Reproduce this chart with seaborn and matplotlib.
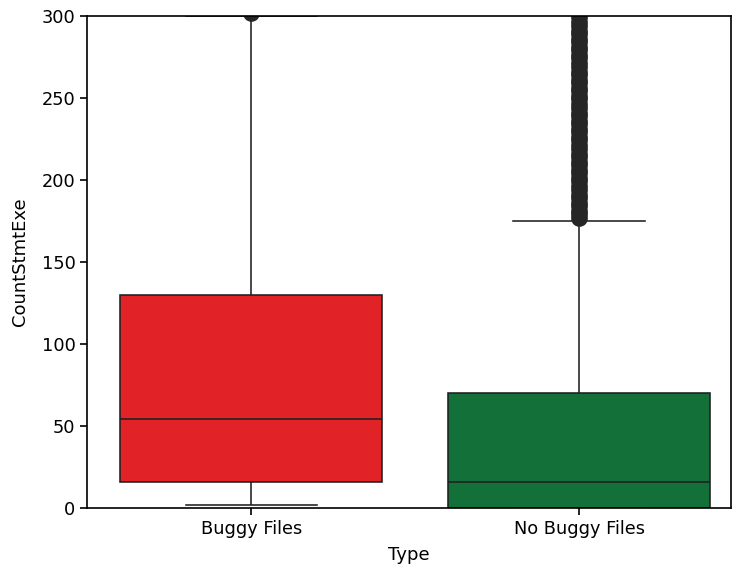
import matplotlib
matplotlib.use("Agg")
import matplotlib.pyplot as plt
import pandas as pd
import seaborn as sns

# Categories and colours
categories = ["Buggy Files", "No Buggy Files"]
box_colors = ["#e12328", "#147039"]

# Five-number summaries (whisker low, Q1, median, Q3, whisker high)
buggy_summary = [1.5, 16, 54, 130, 300]
no_buggy_summary = [0, 0, 16, 70, 175]

# Outlying values beyond the upper whisker
buggy_outliers = [302, 340, 410]
no_buggy_outliers = [177, 179, 181, 184, 186, 189, 191, 194, 196, 199,
                     201, 204, 206, 209, 211, 214, 216, 219, 221, 224,
                     226, 229, 231, 234, 236, 239, 241, 244, 246, 249,
                     251, 254, 256, 259, 261, 264, 266, 269, 271, 274,
                     276, 279, 281, 284, 286, 289, 291, 294, 296, 299,
                     302, 308, 320, 350]


def sample_from_summary(summary, outliers):
    """Build an observation list whose quartiles and whiskers equal the summary."""
    lo, q1, med, q3, hi = summary
    k = len(outliers) + 1
    return [lo] + [q1] * k + [med] * k + [q3] * k + [hi] + list(outliers)


rows = []
for name, summ, outl in [(categories[0], buggy_summary, buggy_outliers),
                         (categories[1], no_buggy_summary, no_buggy_outliers)]:
    for v in sample_from_summary(summ, outl):
        rows.append({"Type": name, "CountStmtExe": v})
df = pd.DataFrame(rows)

plt.rcParams["font.size"] = 13

fig, ax = plt.subplots(figsize=(7.33, 5.65), dpi=100)
fig.subplots_adjust(left=0.119, right=0.997, top=0.972, bottom=0.101)

sns.boxplot(
    data=df, x="Type", y="CountStmtExe", hue="Type",
    order=categories, hue_order=categories,
    palette=box_colors, saturation=1, legend=False,
    width=0.8, linecolor="#1f1f1f", linewidth=1.15,
    flierprops=dict(marker="o", markersize=11,
                    markerfacecolor="#262626", markeredgecolor="#262626"),
    ax=ax,
)

ax.set_xlim(-0.5, 1.463)
ax.set_ylim(0, 300)
ax.set_xlabel("Type", fontsize=13, labelpad=6)
ax.set_ylabel("CountStmtExe", fontsize=13, labelpad=9)
ax.tick_params(labelsize=12.8, width=1.2, length=5)
for s in ax.spines.values():
    s.set_linewidth(1.2)

fig.savefig("out.png", dpi=100)
